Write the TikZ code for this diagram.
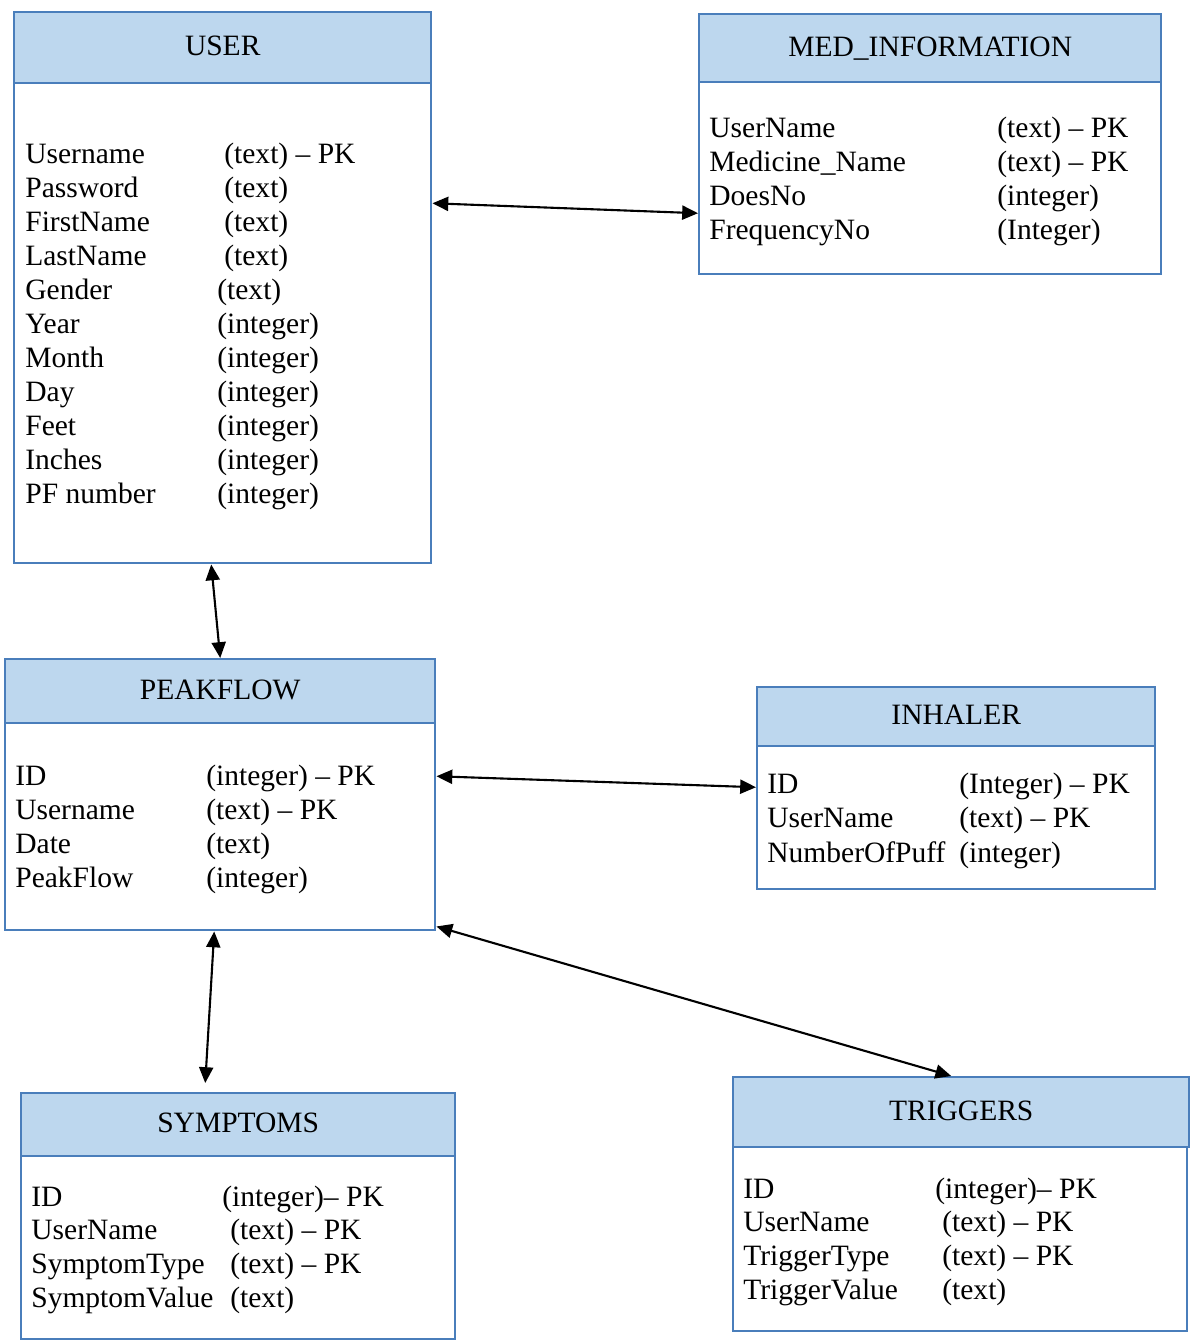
\documentclass[tikz,border=0pt]{standalone}
\usepackage{fontspec}
\setmainfont{Liberation Serif}
\usetikzlibrary{arrows.meta}
\newcommand{\pxl}{0.02cm}
\definecolor{tblue}{HTML}{4A7EBB}
\definecolor{tfill}{HTML}{BDD7EE}
\tikzset{
  every table head/.style={draw=tblue, fill=tfill, line width=1.4pt, inner sep=0pt,
    anchor=north west, text height=0.93em, text depth=0pt},
  every table body/.style={draw=tblue, line width=1.4pt, inner sep=0pt, anchor=north west},
  field/.style={anchor=base west, inner sep=0pt},
  link/.style={{Triangle[length=9pt,width=8pt]}-{Triangle[length=9pt,width=8pt]}, line width=1.2pt}
}
\begin{document}
\begin{tikzpicture}[x=\pxl, y=-\pxl, font=\fontsize{16.8}{19}\selectfont]
  \useasboundingbox (0,0) rectangle (1193,1343);

  \node [every table head/.try, minimum width=417*\pxl, minimum height=71*\pxl] (user-h) at (13,11) {USER};
  \node [every table body/.try, minimum width=417*\pxl, minimum height=480*\pxl] (user) at (13,82) {};
  \foreach \n/\x/\t [count=\i from 0] in {Username/224/(text) -- PK, Password/224/(text),
      FirstName/224/(text), LastName/224/(text), Gender/217/(text), Year/217/(integer),
      Month/217/(integer), Day/217/(integer), Feet/217/(integer), Inches/217/(integer),
      PF number/217/(integer)} {
    \node [field] (user-f\i) at (25,163+34*\i) {\n};
    \node [field] (user-t\i) at (\x,163+34*\i) {\t};
  }

  \node [every table head/.try, minimum width=462*\pxl, minimum height=68*\pxl] (med-h) at (698,13) {MED\_INFORMATION};
  \node [every table body/.try, minimum width=462*\pxl, minimum height=192*\pxl] (med) at (698,81) {};
  \foreach \n/\t [count=\i from 0] in {UserName/(text) -- PK, Medicine\_Name/(text) -- PK,
      DoesNo/(integer), FrequencyNo/(Integer)} {
    \node [field] (med-f\i) at (709,137+34*\i) {\n};
    \node [field] (med-t\i) at (997,137+34*\i) {\t};
  }

  \node [every table head/.try, minimum width=430*\pxl, minimum height=64*\pxl] (peak-h) at (4,658) {PEAKFLOW};
  \node [every table body/.try, minimum width=430*\pxl, minimum height=207*\pxl] (peak) at (4,722) {};
  \foreach \n/\t [count=\i from 0] in {ID/(integer) -- PK, Username/(text) -- PK,
      Date/(text), PeakFlow/(integer)} {
    \node [field] (peak-f\i) at (15,785+34*\i) {\n};
    \node [field] (peak-t\i) at (206,785+34*\i) {\t};
  }

  \node [every table head/.try, minimum width=398*\pxl, minimum height=59*\pxl] (inh-h) at (756,686) {INHALER};
  \node [every table body/.try, minimum width=398*\pxl, minimum height=143*\pxl] (inh) at (756,745) {};
  \foreach \n/\t [count=\i from 0] in {ID/(Integer) -- PK, UserName/(text) -- PK,
      NumberOfPuff/(integer)} {
    \node [field] (inh-f\i) at (767,793+34.5*\i) {\n};
    \node [field] (inh-t\i) at (959,793+34.5*\i) {\t};
  }

  \node [every table head/.try, minimum width=434*\pxl, minimum height=63*\pxl] (sym-h) at (20,1092) {SYMPTOMS};
  \node [every table body/.try, minimum width=434*\pxl, minimum height=183*\pxl] (sym) at (20,1155) {};
  \foreach \n/\x/\t [count=\i from 0] in {ID/222/(integer)-- PK, UserName/230/(text) -- PK,
      SymptomType/230/(text) -- PK, SymptomValue/230/(text)} {
    \node [field] (sym-f\i) at (31,1206+33.7*\i) {\n};
    \node [field] (sym-t\i) at (\x,1206+33.7*\i) {\t};
  }

  \node [every table head/.try, minimum width=456*\pxl, minimum height=70*\pxl] (trig-h) at (732,1076) {TRIGGERS};
  \node [every table body/.try, minimum width=454*\pxl, minimum height=184*\pxl] (trig) at (732,1146) {};
  \foreach \n/\x/\t [count=\i from 0] in {ID/935/(integer)-- PK, UserName/942/(text) -- PK,
      TriggerType/942/(text) -- PK, TriggerValue/942/(text)} {
    \node [field] (trig-f\i) at (743,1198+33.7*\i) {\n};
    \node [field] (trig-t\i) at (\x,1198+33.7*\i) {\t};
  }

  \draw [link] ([yshift=2.4cm]user.east) -- ([yshift=-0.7cm]med.west);
  \draw [link] ([xshift=-0.23cm]user.south) -- (peak-h.north);
  \draw [link] ([yshift=1.01cm]peak.east) -- ([yshift=0.61cm]inh.west);
  \draw [link] ([xshift=-0.12cm]peak.south) -- ([xshift=-0.66cm, yshift=0.18cm]sym-h.north);
  \draw [link] ([yshift=0.1cm]peak.south east) -- ([xshift=-0.2cm]trig-h.north);
\end{tikzpicture}
\end{document}
